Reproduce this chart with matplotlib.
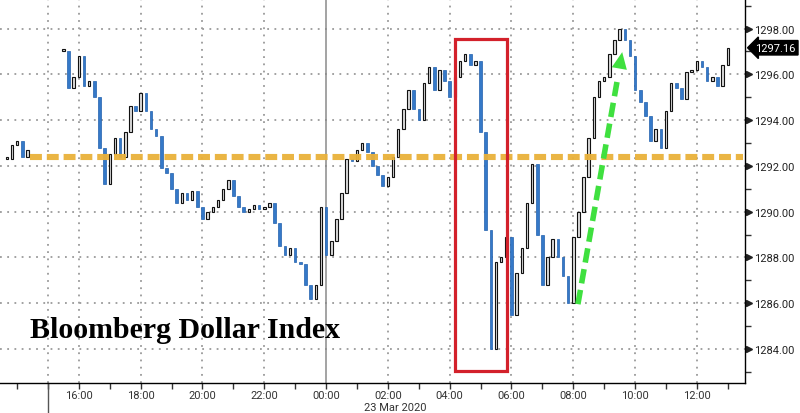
import matplotlib
matplotlib.use("Agg")
import matplotlib.pyplot as plt
import matplotlib.dates as mdates
import matplotlib.transforms as mtransforms
from matplotlib.patches import Rectangle
import numpy as np
import pandas as pd

# ---------------- data ----------------
start_time = "2020-03-22 13:40"
bar_freq = "10min"
closes = [
    1292.3, 1292.9, 1293.1, 1292.4, 1292.7,
    np.nan, np.nan, np.nan, np.nan, np.nan, np.nan,
    1297.0, 1295.4, 1295.9, 1296.8, 1295.5, 1295.7, 1295.0, 1292.8, 1291.2, 1292.5,
    1293.2, 1292.4, 1293.5, 1294.6, 1294.4, 1295.2, 1294.4, 1293.6, 1293.3, 1291.9,
    1291.7, 1291.0, 1290.4, 1290.8, 1290.5, 1290.9, 1290.2, 1289.7, 1290.0, 1290.2,
    1290.5, 1291.0, 1291.4, 1290.7, 1290.2, 1290.0, 1290.1, 1290.3, 1290.1, 1290.2,
    1290.4, 1289.5, 1288.5, 1288.1, 1288.4, 1287.8, 1287.7, 1286.8, 1286.2, 1286.8,
    1290.2, 1288.1, 1288.7, 1289.7, 1290.8, 1292.3, 1292.2, 1292.7, 1293.0, 1292.6,
    1292.0, 1291.6, 1291.1, 1291.5, 1292.4, 1293.6, 1294.5, 1295.3, 1294.5, 1294.0,
    1295.6, 1296.3, 1295.3, 1296.2, 1295.7, 1295.0, 1295.9, 1296.6, 1296.9, 1296.4,
    1296.6, 1293.5, 1289.2, 1284.0, 1287.8, 1288.0, 1288.9, 1285.5, 1287.3, 1288.4,
    1290.4, 1292.1, 1289.0, 1286.8, 1288.0, 1288.8, 1288.0, 1287.2, 1286.0, 1288.9,
    1290.0, 1291.5, 1293.2, 1295.0, 1295.7, 1295.9, 1296.9, 1297.5, 1298.0, 1297.5,
    1296.8, 1295.3, 1294.8, 1294.2, 1293.1, 1293.6, 1292.8, 1294.4, 1295.6, 1295.4,
    1294.9, 1296.1, 1296.2, 1296.6, 1296.3, 1295.7, 1295.9, 1295.5, 1296.4, 1297.16,
]
y_ticks = [1284, 1286, 1288, 1290, 1292, 1294, 1296, 1298]
y_tick_labels = ["1284.00", "1286.00", "1288.00", "1290.00", "1292.00",
                 "1294.00", "1296.00", "1298.00"]
x_tick_times = ["2020-03-22 16:00", "2020-03-22 18:00", "2020-03-22 20:00",
                "2020-03-22 22:00", "2020-03-23 00:00", "2020-03-23 02:00",
                "2020-03-23 04:00", "2020-03-23 06:00", "2020-03-23 08:00",
                "2020-03-23 10:00", "2020-03-23 12:00"]
x_tick_labels = ["16:00", "18:00", "20:00", "22:00", "00:00", "02:00",
                 "04:00", "06:00", "08:00", "10:00", "12:00"]
date_label = "23 Mar 2020"
title_text = "Bloomberg Dollar Index"
last_price = 1297.16
reference_level = 1292.39

# ---------------- figure ----------------
fig = plt.figure(figsize=(8.0, 4.14), dpi=100)
ax = fig.add_axes([0.0, 30 / 414, 745 / 800, 384 / 414])

times = pd.date_range(start_time, periods=len(closes), freq=bar_freq)
xs = mdates.date2num(times.to_pydatetime())
c = np.array(closes, dtype=float)
o = np.r_[np.nan, c[:-1]]
o = np.where(np.isnan(o), c, o)
valid = ~np.isnan(c)
up = valid & (c >= o)
dn = valid & (c < o)
bottoms = np.minimum(o, c)
heights = np.maximum(np.abs(c - o), 0.09)
w = 0.5 * (10 / 1440)

ax.bar(xs[dn], heights[dn], bottom=bottoms[dn], width=w, color="#3579c8",
       edgecolor="#2160ad", linewidth=0.5, zorder=3)
ax.bar(xs[up], heights[up], bottom=bottoms[up], width=w, color="#dcdcdc",
       edgecolor="#111111", linewidth=0.8, zorder=3)

t0 = pd.Timestamp("2020-03-22 15:00")
x_left = mdates.date2num((t0 - pd.Timedelta(hours=1.553)).to_pydatetime())
x_right = mdates.date2num((t0 + pd.Timedelta(hours=22.557)).to_pydatetime())
ax.set_xlim(x_left, x_right)
ax.set_ylim(1282.515, 1299.29)

# grid
grid_kw = dict(color="#9a9a9a", linewidth=1.3, linestyle=(0, (1, 3)))
for yv in y_ticks:
    ax.axhline(yv, zorder=1, **grid_kw)
tick_nums = mdates.date2num(pd.to_datetime(x_tick_times).to_pydatetime())
for lab, xv in zip(x_tick_labels, tick_nums):
    if lab != "00:00":
        ax.axvline(xv, zorder=1, **grid_kw)
x15 = mdates.date2num(t0.to_pydatetime())
ax.axvline(x15, zorder=1, **grid_kw)
midnight = mdates.date2num(pd.Timestamp("2020-03-23 00:00").to_pydatetime())
ax.axvline(midnight, color="#8a8a8a", linewidth=1.1, zorder=1.5)
ax.plot([x15, x15], [0, -30 / 384], color="#555555", linewidth=1.0,
        transform=mtransforms.blended_transform_factory(ax.transData, ax.transAxes),
        clip_on=False)

# spines
for s in ["top", "left"]:
    ax.spines[s].set_visible(False)
ax.spines["right"].set_color("black")
ax.spines["bottom"].set_color("black")
ax.spines["right"].set_linewidth(1.0)
ax.spines["bottom"].set_linewidth(1.0)

tick_font = dict(family=["Roboto", "DejaVu Sans"], size=8.0)

# y axis on right
ax.yaxis.tick_right()
ax.set_yticks(y_ticks)
ax.set_yticklabels(y_tick_labels, color="#222222", fontdict=tick_font)
ax.set_yticks(np.arange(1283, 1300, 2), minor=True)
ax.tick_params(axis="y", which="major", length=0, pad=6.5)
ax.tick_params(axis="y", which="minor", length=4, width=1, color="#333333")
tri_trans = mtransforms.blended_transform_factory(ax.transAxes, ax.transData) + \
    mtransforms.ScaledTranslation(2.8 / 72, 0, fig.dpi_scale_trans)
ax.plot([1.0] * len(y_ticks), y_ticks, linestyle="none", marker=">",
        markersize=5, color="#222222", transform=tri_trans, clip_on=False)

# x axis
ax.set_xticks(tick_nums)
ax.set_xticklabels(x_tick_labels, color="#333333", fontdict=tick_font)
ax.xaxis.set_minor_locator(mdates.HourLocator())
ax.tick_params(axis="x", which="major", length=4, width=1, color="#333333", pad=1.0)
ax.tick_params(axis="x", which="minor", length=4, width=1, color="#333333")
ax.text(395 / 745, -19 / 384, date_label, transform=ax.transAxes, ha="center", va="top",
        color="#333333", fontdict=tick_font)

# reference level (orange dashed)
ref_x0 = mdates.date2num(pd.Timestamp("2020-03-22 14:25").to_pydatetime())
ref_x1 = mdates.date2num(pd.Timestamp("2020-03-23 13:30").to_pydatetime())
ref_line, = ax.plot([ref_x0, ref_x1], [reference_level, reference_level],
                    color="#e9b13a", linewidth=4.4, zorder=4, alpha=0.95)
ref_line.set_dashes([1.95, 0.8])

# red box
bx0 = mdates.date2num(pd.Timestamp("2020-03-23 04:10").to_pydatetime())
bx1 = mdates.date2num(pd.Timestamp("2020-03-23 05:51").to_pydatetime())
ax.add_patch(Rectangle((bx0, 1283.04), bx1 - bx0, 1297.54 - 1283.04,
                       fill=False, edgecolor="#d3212b", linewidth=2.3, zorder=5))

# green arrow
gx0 = mdates.date2num(pd.Timestamp("2020-03-23 08:09").to_pydatetime())
gx1 = mdates.date2num(pd.Timestamp("2020-03-23 09:35").to_pydatetime())
gy0, gy1 = 1285.96, 1296.97
frac = 0.90
shaft, = ax.plot([gx0, gx0 + frac * (gx1 - gx0)], [gy0, gy0 + frac * (gy1 - gy0)],
                 color="#3fe03f", linewidth=4.0, zorder=6)
shaft.set_dashes([2.6, 1.2])
ax.annotate("", xy=(gx1, gy1), xytext=(gx0 + 0.86 * (gx1 - gx0), gy0 + 0.86 * (gy1 - gy0)),
            arrowprops=dict(arrowstyle="-|>,head_length=1.2,head_width=0.55",
                            color="#3fe03f", lw=0, shrinkA=0, shrinkB=0), zorder=6)

# title text
fig.text(30 / 800, 1 - 338 / 414, title_text, family=["Liberation Serif", "DejaVu Serif"],
         fontsize=21.5, fontweight="bold", color="black", va="baseline", ha="left")

# last price tag
tag_trans = mtransforms.blended_transform_factory(ax.transAxes, ax.transData) + \
    mtransforms.ScaledTranslation(7.5 / 72, 0, fig.dpi_scale_trans)
ax.text(1.0, last_price, f"{last_price:.2f}", transform=tag_trans, ha="left",
        va="center", color="white", fontdict=tick_font, clip_on=False,
        bbox=dict(boxstyle="larrow,pad=0.2", fc="black", ec="black"))

fig.savefig("out.png", dpi=100, facecolor="white")
